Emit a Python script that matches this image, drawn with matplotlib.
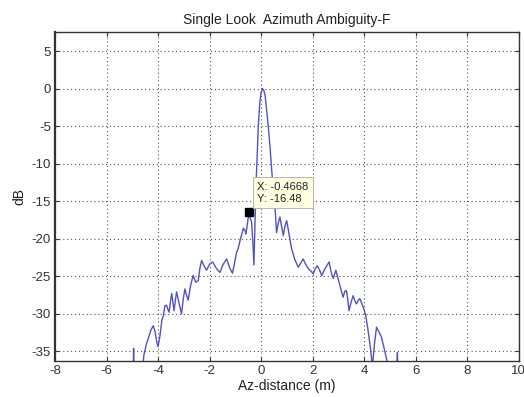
import matplotlib
matplotlib.use("Agg")
import matplotlib.pyplot as plt

plt.rcParams['font.family'] = ['Liberation Sans', 'DejaVu Sans']

# Az-distance (m) and response (dB)
az_distance = [
    -5.10, -4.97, -4.95, -4.93, -4.80, -4.62, -4.55, -4.45, -4.38, -4.28,
    -4.19, -4.12, -4.05, -4.00, -3.93, -3.85, -3.80, -3.73, -3.67, -3.62,
    -3.57, -3.52, -3.47, -3.42, -3.38, -3.33, -3.28, -3.18, -3.09, -3.02,
    -2.96, -2.89, -2.83, -2.74, -2.64, -2.54, -2.44, -2.38, -2.31, -2.22,
    -2.12, -2.00, -1.88, -1.75, -1.60, -1.47, -1.34, -1.21, -1.11, -1.02,
    -0.95, -0.89, -0.82, -0.75, -0.69, -0.63, -0.59, -0.53, -0.47, -0.42,
    -0.37, -0.32, -0.28, -0.24, -0.20, -0.15, -0.11, -0.05, 0.00, 0.05,
    0.10, 0.16, 0.22, 0.28, 0.35, 0.41, 0.47, 0.53, 0.60, 0.66,
    0.73, 0.79, 0.86, 0.92, 0.99, 1.08, 1.18, 1.31, 1.44, 1.53,
    1.63, 1.73, 1.83, 1.93, 2.02, 2.10, 2.18, 2.27, 2.35, 2.48,
    2.64, 2.72, 2.80, 2.90, 3.04, 3.18, 3.25, 3.31, 3.36, 3.41,
    3.49, 3.57, 3.64, 3.70, 3.77, 3.83, 3.95, 4.06, 4.15, 4.24,
    4.32, 4.40, 4.48, 4.57, 4.67, 4.80, 4.93, 5.10, 5.27, 5.29,
    5.31, 5.40,
]
level_db = [
    -40.0, -38.0, -34.6, -38.0, -40.0, -38.0, -35.5, -34.0, -33.3, -32.2,
    -31.6, -32.3, -33.8, -34.4, -33.0, -30.8, -30.3, -28.9, -28.9, -29.4,
    -29.8, -28.4, -27.3, -28.6, -29.6, -28.2, -27.1, -28.7, -30.0, -28.0,
    -26.7, -27.6, -28.2, -26.3, -24.9, -25.8, -25.6, -24.0, -22.9, -23.6,
    -24.2, -23.4, -23.1, -23.9, -24.5, -23.4, -22.7, -24.0, -24.6, -23.0,
    -21.8, -21.3, -20.3, -19.4, -18.6, -18.9, -19.4, -17.9, -16.48, -17.3,
    -17.8, -20.5, -23.5, -18.0, -13.0, -8.5, -5.0, -1.8, -0.5, 0.0,
    -0.2, -1.0, -3.0, -5.1, -8.0, -10.9, -13.2, -15.4, -19.2, -18.0,
    -17.1, -18.3, -19.6, -18.4, -17.6, -19.3, -21.3, -22.8, -23.8, -23.3,
    -22.7, -23.4, -24.0, -24.3, -24.7, -24.0, -23.6, -24.2, -24.9, -24.0,
    -23.1, -24.5, -25.3, -24.2, -26.0, -27.8, -27.0, -26.9, -28.0, -29.6,
    -28.5, -27.6, -28.3, -28.7, -28.2, -28.0, -29.0, -30.2, -32.2, -34.5,
    -37.0, -34.0, -31.8, -32.4, -33.1, -35.0, -37.0, -40.0, -37.0, -35.2,
    -38.0, -40.0,
]

tip_x = -0.4668
tip_y = -16.48

x_ticks = [-8, -6, -4, -2, 0, 2, 4, 6, 8, 10]
y_ticks = [-35, -30, -25, -20, -15, -10, -5, 0, 5]

fig = plt.figure(figsize=(5.24, 3.97), dpi=100)
ax = fig.add_axes([0.105, 0.0907, 0.885, 0.828])

ax.plot(az_distance, level_db, color='#5252c4', linewidth=1.0)

ax.set_xlim(-8, 10)
ax.set_ylim(-36.3, 7.5)
ax.set_xticks(x_ticks)
ax.set_yticks(y_ticks)
ax.set_xticklabels([str(t) for t in x_ticks])
ax.set_yticklabels([str(t) for t in y_ticks])

ax.grid(True, linestyle=(0, (1, 2.5)), color='#555555', linewidth=0.8)
ax.tick_params(direction='in', top=True, right=True, length=3,
               labelsize=9.5, colors='#333333', pad=3)
for s in ax.spines.values():
    s.set_color('#333333')
    s.set_linewidth(1.0)
ax.spines['left'].set_linewidth(1.6)

ax.set_title('Single Look  Azimuth Ambiguity-F', fontsize=10, color='#222222', pad=6)
ax.set_xlabel('Az-distance (m)', fontsize=10, color='#222222', labelpad=1)
ax.set_ylabel('dB', fontsize=10, color='#222222', labelpad=4)

# data tip
ax.plot([tip_x], [tip_y], marker='s', markersize=6, color='black', linestyle='none', zorder=5)
ax.annotate(f'X: {tip_x}\nY: {tip_y}', xy=(tip_x, tip_y), xytext=(6, 6),
            textcoords='offset points', fontsize=8, color='#222222',
            ha='left', va='bottom', linespacing=1.3,
            bbox=dict(boxstyle='square,pad=0.4', facecolor='#ffffe1',
                      edgecolor='#aaaaaa', linewidth=0.6), zorder=6)

fig.savefig('out.png', dpi=100)
